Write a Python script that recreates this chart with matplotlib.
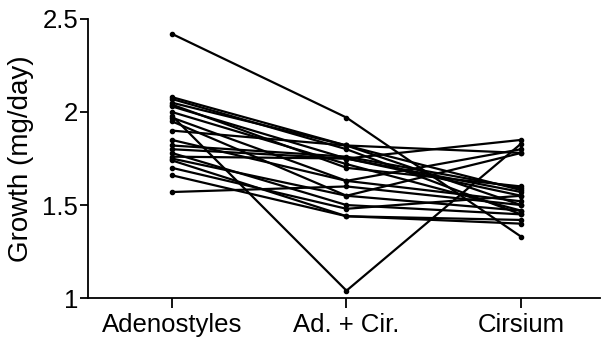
import numpy as np
import matplotlib
matplotlib.use("Agg")
from matplotlib import pyplot as plt

plt.rcParams['font.family'] = ['Liberation Sans', 'DejaVu Sans']

#Data: one line per individual
groups = ["Adenostyles", "Ad. + Cir.", "Cirsium"]
adeno = [2.42, 1.98, 2.08, 2.07, 2.05, 2.03, 2.00, 1.97, 1.95, 1.90, 1.85,
         1.82, 1.80, 1.78, 1.76, 1.75, 1.74, 1.70, 1.66, 1.57, 2.04]
mixed = [1.97, 1.04, 1.82, 1.80, 1.82, 1.75, 1.72, 1.63, 1.55, 1.82, 1.63,
         1.76, 1.75, 1.50, 1.75, 1.55, 1.44, 1.48, 1.44, 1.60, 1.70]
cirsium = [1.33, 1.83, 1.58, 1.45, 1.50, 1.55, 1.47, 1.80, 1.78, 1.78, 1.52,
           1.59, 1.57, 1.45, 1.85, 1.47, 1.42, 1.55, 1.40, 1.50, 1.60]

fig = plt.figure(figsize=(6.07, 3.38), dpi=100)
ax = fig.add_axes([0.145, 0.118, 0.843, 0.826])

x = np.arange(len(groups))
for a, m, c in zip(adeno, mixed, cirsium):
    ax.plot(x, [a, m, c], color="black", lw=1.6, marker="o", markersize=3)

#Plot details
ax.set_xlim(-0.48, 2.45)
ax.set_ylim(1, 2.5)
ax.set_xticks(x)
ax.set_xticklabels(groups, fontsize=18.5)
ax.set_yticks([1, 1.5, 2, 2.5])
ax.set_yticklabels(["1", "1.5", "2", "2.5"], fontsize=18.5)
ax.set_ylabel("Growth (mg/day)", fontsize=20, labelpad=6)
ax.spines["top"].set_visible(False)
ax.spines["right"].set_visible(False)
ax.spines["left"].set_linewidth(1.3)
ax.spines["bottom"].set_linewidth(1.3)
ax.tick_params(axis="x", direction="out", length=7, width=1.3, pad=4)
ax.tick_params(axis="y", direction="out", length=6, width=1.3, pad=1)

plt.savefig("out.png", dpi=100)
